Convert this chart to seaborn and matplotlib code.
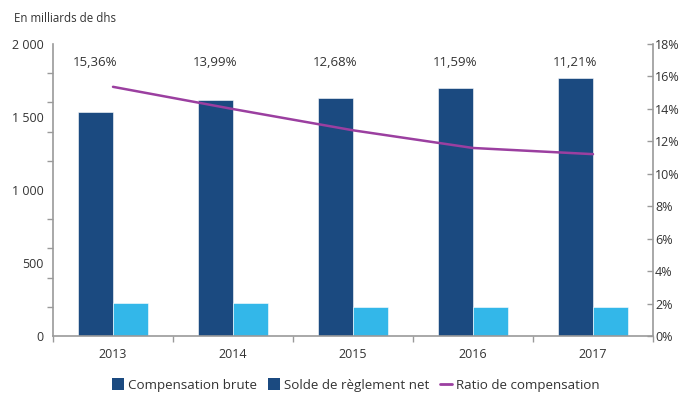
import matplotlib
matplotlib.use("Agg")
import matplotlib.pyplot as plt
import seaborn as sns
import pandas as pd
import numpy as np
from matplotlib.patches import Patch
from matplotlib.lines import Line2D
from matplotlib.ticker import FixedLocator, FuncFormatter

years = ["2013", "2014", "2015", "2016", "2017"]
compensation_brute = [1534, 1616, 1632, 1700, 1769]
solde_net = [228, 228, 199, 199, 199]
ratio = [15.36, 13.99, 12.68, 11.59, 11.21]
ratio_labels = ["15,36%", "13,99%", "12,68%", "11,59%", "11,21%"]
series_names = ["Compensation brute", "Solde de règlement net"]
line_name = "Ratio de compensation"

dark = "#1B4A80"
light = "#33B7E9"
purple = "#9B3FA0"
txt = "#333333"
axc = "#9A9A9A"

sns.set_theme(style="white")
plt.rcParams['font.family'] = ['Open Sans', 'DejaVu Sans']

df = pd.DataFrame({
    "year": years * 2,
    "value": compensation_brute + solde_net,
    "series": [series_names[0]] * 5 + [series_names[1]] * 5,
})

fig = plt.figure(figsize=(6.83, 4.03), dpi=100)
ax = fig.add_axes([53/683, 1-336/403, 600/683, 292/403])

sns.barplot(data=df, x="year", y="value", hue="series", palette=[dark, light],
            width=0.583, ax=ax, legend=False, edgecolor="white", linewidth=0.4,
            saturation=1)
ax.set_xlim(-0.5, 4.5)
ax.set_ylim(0, 2000)
ax.set_xlabel("")
ax.set_ylabel("")

# left axis: labels every 500, tick marks every 200
ax.yaxis.set_major_locator(FixedLocator([0, 500, 1000, 1500, 2000]))
ax.yaxis.set_major_formatter(FuncFormatter(lambda v, p: f"{int(v):,}".replace(",", " ")))
ax.yaxis.set_minor_locator(FixedLocator(np.arange(0, 2001, 200)))
ax.tick_params(axis="y", which="major", length=0, pad=7, labelsize=9, labelcolor=txt)
ax.tick_params(axis="y", which="minor", length=4, width=1, color=axc, direction="out", left=True)

# x axis: ticks at category boundaries
ax.set_xticks(range(5))
ax.set_xticklabels(years)
ax.xaxis.set_minor_locator(FixedLocator(np.arange(-0.5, 5, 1)))
ax.tick_params(axis="x", which="major", length=0, pad=9, labelsize=9, labelcolor=txt)
ax.tick_params(axis="x", which="minor", length=4, width=1, color=axc, direction="out", bottom=True)

for s in ["top", "right"]:
    ax.spines[s].set_visible(False)
for s in ["left", "bottom"]:
    ax.spines[s].set_color(axc)
    ax.spines[s].set_linewidth(1.2)

ax2 = ax.twinx()
sns.lineplot(x=np.arange(5), y=ratio, ax=ax2, color=purple, linewidth=1.8, legend=False)
ax2.set_ylim(0, 18)
ax2.set_yticks(np.arange(0, 19, 2))
ax2.set_yticklabels([f"{int(v)}%" for v in np.arange(0, 19, 2)])
ax2.tick_params(axis="y", length=4, width=1, color=axc, direction="in", labelsize=9,
                labelcolor=txt, pad=1.5)
for s in ["top", "left", "bottom"]:
    ax2.spines[s].set_visible(False)
ax2.spines["right"].set_color(axc)
ax2.spines["right"].set_linewidth(1.2)
ax2.set_xlim(-0.5, 4.5)

for i, lab in enumerate(ratio_labels):
    ax2.text(i - 0.146, 16.85, lab, ha="center", va="center", fontsize=9.5, color=txt)

fig.text(14/683, 1-18/403, "En milliards de dhs", ha="left", va="center", fontsize=8.3, color=txt)

handles = [Patch(facecolor=dark, edgecolor="none"), Patch(facecolor=dark, edgecolor="none"),
           Line2D([0], [0], color=purple, linewidth=2)]
fig.legend(handles, series_names + [line_name], loc="center", bbox_to_anchor=(0.521, 1-385/403),
           ncol=3, frameon=False, fontsize=9.6, handlelength=0.9, handleheight=0.9,
           handletextpad=0.3, columnspacing=0.8, labelcolor=txt)

fig.savefig("out.png", dpi=100)
